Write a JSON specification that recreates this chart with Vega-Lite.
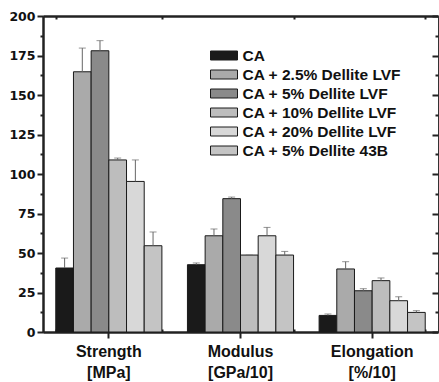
{
  "$schema": "https://vega.github.io/schema/vega-lite/v6.json",
  "width": 395,
  "height": 316,
  "autosize": "none",
  "padding": {"left": 43, "top": 16, "right": 1, "bottom": 50},
  "background": "white",
  "config": {
    "view": {"stroke": "#333", "strokeWidth": 1},
    "axis": {"domainColor": "#222", "tickColor": "#222", "gridColor": "#222", "labelColor": "#111", "title": null},
    "axisY": {"labelOverlap": false, "labelFlush": false, "labelBound": false}
  },
  "data": {
    "values": [
      {"group": "Strength [MPa]", "series": "CA", "value": 40.5, "hi": 46.8},
      {"group": "Strength [MPa]", "series": "CA + 2.5% Dellite LVF", "value": 164.7, "hi": 179.7},
      {"group": "Strength [MPa]", "series": "CA + 5% Dellite LVF", "value": 178.0, "hi": 184.4},
      {"group": "Strength [MPa]", "series": "CA + 10% Dellite LVF", "value": 108.9, "hi": 110.1},
      {"group": "Strength [MPa]", "series": "CA + 20% Dellite LVF", "value": 95.3, "hi": 108.9},
      {"group": "Strength [MPa]", "series": "CA + 5% Dellite 43B", "value": 54.6, "hi": 63.3},
      {"group": "Modulus [GPa/10]", "series": "CA", "value": 42.6, "hi": 43.7},
      {"group": "Modulus [GPa/10]", "series": "CA + 2.5% Dellite LVF", "value": 60.9, "hi": 65.2},
      {"group": "Modulus [GPa/10]", "series": "CA + 5% Dellite LVF", "value": 84.4, "hi": 85.4},
      {"group": "Modulus [GPa/10]", "series": "CA + 10% Dellite LVF", "value": 48.7, "hi": 48.7},
      {"group": "Modulus [GPa/10]", "series": "CA + 20% Dellite LVF", "value": 60.9, "hi": 66.2},
      {"group": "Modulus [GPa/10]", "series": "CA + 5% Dellite 43B", "value": 48.7, "hi": 51.0},
      {"group": "Elongation [%/10]", "series": "CA", "value": 10.5, "hi": 11.4},
      {"group": "Elongation [%/10]", "series": "CA + 2.5% Dellite LVF", "value": 39.9, "hi": 44.5},
      {"group": "Elongation [%/10]", "series": "CA + 5% Dellite LVF", "value": 26.1, "hi": 27.4},
      {"group": "Elongation [%/10]", "series": "CA + 10% Dellite LVF", "value": 32.5, "hi": 34.2},
      {"group": "Elongation [%/10]", "series": "CA + 20% Dellite LVF", "value": 19.8, "hi": 22.3},
      {"group": "Elongation [%/10]", "series": "CA + 5% Dellite 43B", "value": 12.4, "hi": 13.5}
    ]
  },
  "resolve": {"axis": {"x": "independent", "y": "independent"}},
  "layer": [
    {
      "mark": {"type": "bar", "stroke": "#1a1a1a", "strokeWidth": 1},
      "encoding": {
        "x": {
          "field": "group", "type": "nominal",
          "sort": ["Strength [MPa]", "Modulus [GPa/10]", "Elongation [%/10]"],
          "scale": {"paddingInner": 0.194, "paddingOuter": 0.097},
          "axis": {
            "orient": "bottom", "labelAngle": 0, "labelExpr": "split(datum.value, ' ')",
            "labelFont": "Liberation Sans", "labelFontWeight": "bold", "labelFontSize": 16,
            "labelLineHeight": 21, "labelPadding": 5,
            "domainWidth": 2.5, "tickSize": 6, "tickWidth": 2,
            "grid": true, "gridWidth": 2, "gridDash": [0, 310, 6, 1000]
          }
        },
        "xOffset": {
          "field": "series", "type": "nominal",
          "sort": ["CA", "CA + 2.5% Dellite LVF", "CA + 5% Dellite LVF", "CA + 10% Dellite LVF", "CA + 20% Dellite LVF", "CA + 5% Dellite 43B"]
        },
        "y": {
          "field": "value", "type": "quantitative",
          "scale": {"domain": [0, 200], "nice": false},
          "axis": {
            "orient": "left",
            "values": [0, 12.5, 25, 37.5, 50, 62.5, 75, 87.5, 100, 112.5, 125, 137.5, 150, 162.5, 175, 187.5, 200],
            "labelExpr": "datum.value % 25 === 0 ? datum.label : ''",
            "labelOverlap": false,
            "labelFont": "DejaVu Sans", "labelFontWeight": "bold", "labelFontSize": 12.5,
            "labelPadding": 2,
            "domainWidth": 2.5, "tickWidth": 2,
            "tickSize": {"condition": {"test": "datum.value % 25 === 0", "value": 6}, "value": 3},
            "grid": true, "gridWidth": 2,
            "gridDash": {"condition": {"test": "datum.value % 25 === 0", "value": [0, 389, 6, 1000]}, "value": [0, 392, 3, 1000]}
          }
        },
        "color": {
          "field": "series", "type": "nominal",
          "sort": ["CA", "CA + 2.5% Dellite LVF", "CA + 5% Dellite LVF", "CA + 10% Dellite LVF", "CA + 20% Dellite LVF", "CA + 5% Dellite 43B"],
          "scale": {
            "domain": ["CA", "CA + 2.5% Dellite LVF", "CA + 5% Dellite LVF", "CA + 10% Dellite LVF", "CA + 20% Dellite LVF", "CA + 5% Dellite 43B"],
            "range": ["#1a1a1a", "#aaaaaa", "#8a8a8a", "#bdbdbd", "#d8d8d8", "#c4c4c4"]
          },
          "legend": {
            "title": null, "orient": "none", "legendX": 171.5, "legendY": 30,
            "symbolType": "M-1.5,-0.5H1.5V0.5H-1.5Z", "symbolSize": 324,
            "symbolStrokeColor": "#1a1a1a", "symbolStrokeWidth": 1, "symbolOpacity": 1,
            "labelFont": "Liberation Sans", "labelFontWeight": "bold", "labelFontSize": 15.5,
            "labelColor": "#111", "labelOffset": 9, "rowPadding": 1, "labelLimit": 300
          }
        }
      }
    },
    {
      "mark": {"type": "rule", "color": "#666", "strokeWidth": 1},
      "encoding": {
        "x": {
          "field": "group", "type": "nominal",
          "sort": ["Strength [MPa]", "Modulus [GPa/10]", "Elongation [%/10]"],
          "axis": {
            "orient": "top", "labels": false, "ticks": false, "tickBand": "extent",
            "domainWidth": 2.5,
            "grid": true, "gridWidth": 2, "gridDash": [3, 310, 3, 1000]
          }
        },
        "xOffset": {
          "field": "series", "type": "nominal",
          "sort": ["CA", "CA + 2.5% Dellite LVF", "CA + 5% Dellite LVF", "CA + 10% Dellite LVF", "CA + 20% Dellite LVF", "CA + 5% Dellite 43B"]
        },
        "y": {"field": "value", "type": "quantitative", "axis": null},
        "y2": {"field": "hi"}
      }
    },
    {
      "mark": {"type": "tick", "color": "#666", "thickness": 1, "size": 7},
      "encoding": {
        "x": {
          "field": "group", "type": "nominal",
          "sort": ["Strength [MPa]", "Modulus [GPa/10]", "Elongation [%/10]"],
          "axis": null
        },
        "xOffset": {
          "field": "series", "type": "nominal",
          "sort": ["CA", "CA + 2.5% Dellite LVF", "CA + 5% Dellite LVF", "CA + 10% Dellite LVF", "CA + 20% Dellite LVF", "CA + 5% Dellite 43B"]
        },
        "y": {"field": "hi", "type": "quantitative", "axis": null}
      }
    }
  ]
}
